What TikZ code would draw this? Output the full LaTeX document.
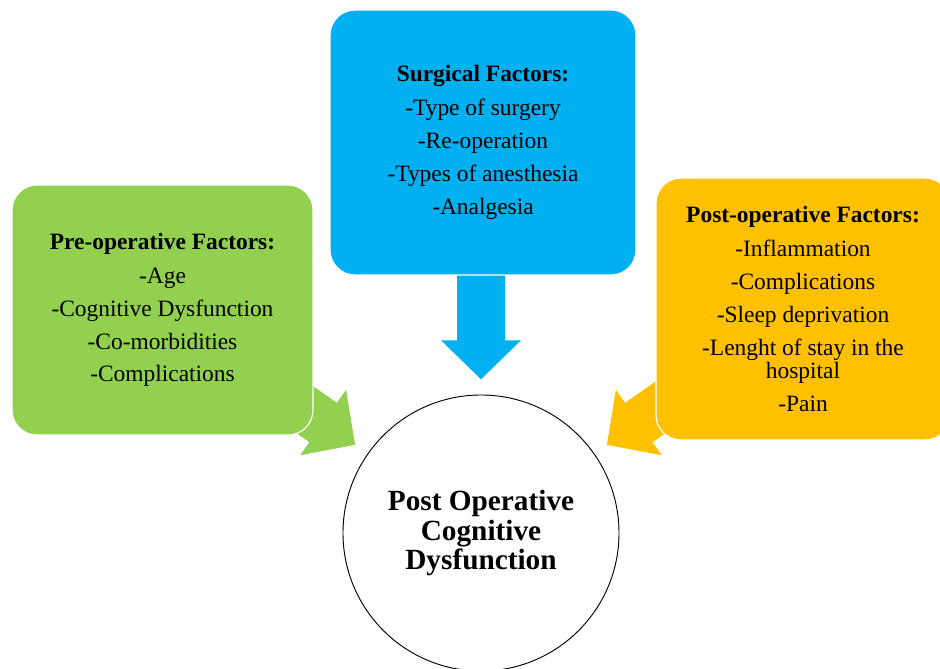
\documentclass[tikz,border=0pt]{standalone}
\usepackage{fontspec}
\setmainfont{Liberation Serif}
\usetikzlibrary{calc}
\definecolor{preGreen}{HTML}{92D050}
\definecolor{surgBlue}{HTML}{00B0F0}
\definecolor{postGold}{HTML}{FFC000}
\tikzset{
  factor/.style={rounded corners=0.75cm, draw=white, line width=1pt, align=center,
    inner sep=0pt, font=\fontsize{20}{20}\selectfont},
  blkarrow/.pic={\fill (0,0) -- (-39,40) -- (-39,24) -- (-120,24) -- (-120,-24)
    -- (-39,-24) -- (-39,-40) -- cycle;}
}
\begin{document}
\begin{tikzpicture}[x=0.03cm,y=-0.03cm]
  \useasboundingbox (0,0) rectangle (940,669);
  % centre
  \node[circle, draw, line width=0.8pt, minimum size=8.28cm, align=center,
    font=\fontsize{25}{25}\selectfont\bfseries] (pocd) at (481,533)
    {Post Operative\\Cognitive\\Dysfunction};
  % arrow tips, all pointing at the centre
  \coordinate (tipL) at ($(pocd.center)!1.11!(pocd.145)$);
  \coordinate (tipT) at ($(pocd.center)!1.11!(pocd.90)$);
  \coordinate (tipR) at ($(pocd.center)!1.11!(pocd.35)$);
  \pic[rotate=-35, fill=preGreen] at (tipL) {blkarrow};
  \pic[rotate=-90, fill=surgBlue] at (tipT) {blkarrow};
  \pic[rotate=-145, fill=postGold] at (tipR) {blkarrow};
  % factor boxes
  \node[factor, fill=preGreen, minimum width=9.03cm, minimum height=7.5cm] (pre) at (162.5,310)
    {\textbf{Pre-operative Factors:}\\[9pt]-Age\\[8pt]-Cognitive Dysfunction\\[8pt]-Co-morbidities\\[8pt]-Complications};
  \node[factor, fill=surgBlue, minimum width=9.18cm, minimum height=7.95cm] (surg) at (483,142.5)
    {\textbf{Surgical Factors:}\\[9pt]-Type of surgery\\[8pt]-Re-operation\\[8pt]-Types of anesthesia\\[8pt]-Analgesia};
  \node[factor, fill=postGold, minimum width=8.82cm, minimum height=7.86cm] (post) at (803,309)
    {\textbf{Post-operative Factors:}\\[9pt]-Inflammation\\[8pt]-Complications\\[8pt]-Sleep deprivation\\[8pt]-Lenght of stay in the\\hospital\\[8pt]-Pain};
\end{tikzpicture}
\end{document}
